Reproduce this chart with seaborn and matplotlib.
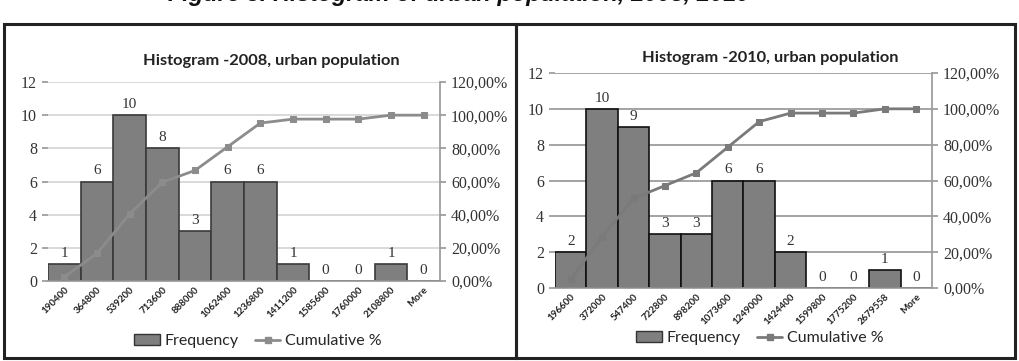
import numpy as np
import pandas as pd
import seaborn as sns
import matplotlib.pyplot as plt
import matplotlib.patches as mpatches
import matplotlib.lines as mlines
from matplotlib.ticker import FuncFormatter

# bin labels (blurry in source, approximate)
bins_2008 = ['190400', '364800', '539200', '713600', '888000', '1062400',
             '1236800', '1411200', '1585600', '1760000', '2108800', 'More']
bins_2010 = ['196600', '372000', '547400', '722800', '898200', '1073600',
             '1249000', '1424400', '1599800', '1775200', '2679558', 'More']

freq_2008 = [1, 6, 10, 8, 3, 6, 6, 1, 0, 0, 1, 0]
cum_2008 = [2.38, 16.67, 40.48, 59.52, 66.67, 80.95, 95.24, 97.62, 97.62, 97.62, 100.0, 100.0]

freq_2010 = [2, 10, 9, 3, 3, 6, 6, 2, 0, 0, 1, 0]
cum_2010 = [4.76, 28.57, 50.0, 57.14, 64.29, 78.57, 92.86, 97.62, 97.62, 97.62, 100.0, 100.0]

titles = ['Histogram -2008, urban population', 'Histogram -2010, urban population']

W, H = 1020, 361


def fx(px):
    return px / W


def fy(py):
    return 1 - py / H


def pct(v, pos):
    return f'{v:.2f}%'.replace('.', ',')


def panel(fig, rect, bins, freq, cum, title, title_xy, legend_xy, edge, grid, line_c):
    ax = fig.add_axes(rect)
    df = pd.DataFrame({'bin': bins, 'freq': freq})
    sns.barplot(data=df, x='bin', y='freq', color='#7f7f7f', saturation=1,
                width=1.0, edgecolor=edge, linewidth=1.2, ax=ax)
    ax.set_xlim(-0.5, len(bins) - 0.5)
    ax.set_ylim(0, 12)
    ax.set_yticks(range(0, 13, 2))
    ax.set_axisbelow(True)
    ax.yaxis.grid(True, color=grid, linewidth=1.1)
    ax.set_xlabel('')
    ax.set_ylabel('')
    for s in ['top', 'left', 'right']:
        ax.spines[s].set_visible(False)
    ax.spines['bottom'].set_color('#9a9a9a')
    ax.tick_params(axis='y', length=4, color='#9a9a9a', labelsize=11.5, pad=4)
    ax.tick_params(axis='x', length=0, labelsize=7, pad=3)
    for lab in ax.get_yticklabels():
        lab.set_family('Liberation Serif')
        lab.set_color('#333333')
    for lab in ax.get_xticklabels():
        lab.set_rotation(45)
        lab.set_ha('right')
        lab.set_rotation_mode('anchor')
        lab.set_weight('bold')
        lab.set_color('#222222')
    ax.bar_label(ax.containers[0], labels=[str(v) for v in freq], padding=3,
                 fontsize=11, family='Liberation Serif', color='#333333')

    ax2 = ax.twinx()
    sns.lineplot(x=np.arange(len(bins)), y=cum, color=line_c, linewidth=2,
                 marker='s', markersize=5, markeredgecolor=line_c, ax=ax2)
    ax2.set_ylim(0, 120)
    ax2.set_yticks(range(0, 121, 20))
    ax2.yaxis.set_major_formatter(FuncFormatter(pct))
    for s in ['top', 'left', 'bottom']:
        ax2.spines[s].set_visible(False)
    ax2.spines['right'].set_color('#9a9a9a')
    ax2.tick_params(axis='y', length=4, color='#9a9a9a', labelsize=11.5, pad=4)
    for lab in ax2.get_yticklabels():
        lab.set_family('Liberation Serif')
        lab.set_color('#333333')

    fig.text(fx(title_xy[0]), fy(title_xy[1]), title, ha='center', va='center',
             fontsize=11.8, weight='bold', color='#222222', family='Lato')

    h_bar = mpatches.Patch(facecolor='#7f7f7f', edgecolor='#333333')
    h_line = mlines.Line2D([], [], color=line_c, linewidth=2, marker='s', markersize=4)
    fig.legend([h_bar, h_line], ['Frequency', 'Cumulative %'],
               loc='center', bbox_to_anchor=(fx(legend_xy[0]), fy(legend_xy[1])),
               ncol=2, frameon=False, handlelength=1.6,
               handletextpad=0.3, columnspacing=1.0, prop={'family': 'Lato', 'size': 11.5})
    return ax


def main():
    sns.set_theme(style='white')
    plt.rcParams['font.family'] = ['Lato', 'DejaVu Sans']

    fig = plt.figure(figsize=(W / 100, H / 100), dpi=100)

    # caption cropped at the top edge, as in the source image
    fig.text(fx(168), fy(1), 'Figure 3. Histogram of urban population, 2008, 2010',
             ha='left', va='baseline', fontsize=17, weight='bold', style='italic',
             family='Liberation Sans', color='#111111')

    # panel frames
    for x0, x1 in [(4, 516), (516, 1015)]:
        fig.add_artist(mpatches.Rectangle((fx(x0), fy(358)), fx(x1 - x0), (358 - 24) / H,
                                          transform=fig.transFigure, fill=False,
                                          edgecolor='#222222', linewidth=2.2))

    panel(fig, [fx(48), fy(281), fx(440 - 48), (281 - 82) / H],
          bins_2008, freq_2008, cum_2008, titles[0], (271, 61), (258, 341),
          edge='#3a3a3a', grid='#cfcfcf', line_c='#8c8c8c')
    panel(fig, [fx(555), fy(288), fx(932 - 555), (288 - 73) / H],
          bins_2010, freq_2010, cum_2010, titles[1], (770, 58), (760, 338),
          edge='#111111', grid='#8a8a8a', line_c='#7a7a7a')

    plt.savefig('out.png', dpi=100)


if __name__ == '__main__':
    main()
